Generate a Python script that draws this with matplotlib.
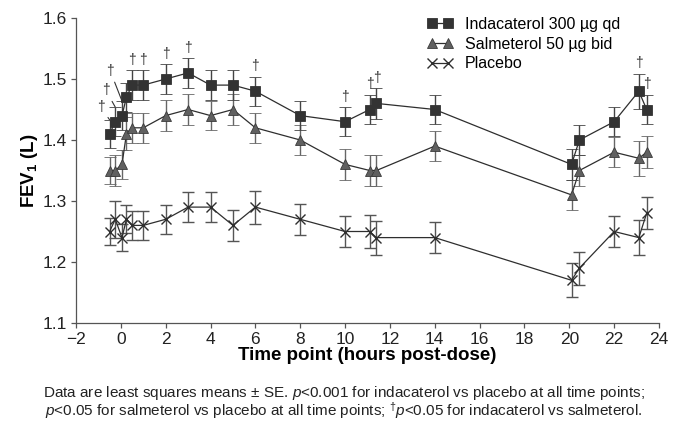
import matplotlib
matplotlib.use("Agg")
import matplotlib.pyplot as plt
from matplotlib.lines import Line2D

plt.rcParams['font.family'] = ['Liberation Sans', 'DejaVu Sans']
plt.rcParams['mathtext.fontset'] = 'custom'
plt.rcParams['mathtext.rm'] = 'Liberation Sans'
plt.rcParams['mathtext.it'] = 'Liberation Sans:italic'
plt.rcParams['mathtext.bf'] = 'Liberation Sans:bold'

# time points (hours post-dose), shared by all three arms
times = [-0.5, -0.25, 0.05, 0.25, 0.5, 1, 2, 3, 4, 5, 6, 8, 10, 11.1, 11.4,
         14, 20.1, 20.45, 22, 23.1, 23.45]

inda = [1.41, 1.43, 1.44, 1.47, 1.49, 1.49, 1.50, 1.51, 1.49, 1.49, 1.48,
        1.44, 1.43, 1.45, 1.46, 1.45, 1.36, 1.40, 1.43, 1.48, 1.45]
inda_se = [0.023, 0.024, 0.024, 0.024, 0.024, 0.024, 0.024, 0.024, 0.024, 0.024, 0.024,
           0.024, 0.024, 0.024, 0.025, 0.024, 0.025, 0.024, 0.024, 0.029, 0.024]

salm = [1.35, 1.35, 1.36, 1.41, 1.42, 1.42, 1.44, 1.45, 1.44, 1.45, 1.42,
        1.40, 1.36, 1.35, 1.35, 1.39, 1.31, 1.35, 1.38, 1.37, 1.38]
salm_se = [0.022, 0.025, 0.024, 0.027, 0.025, 0.025, 0.025, 0.025, 0.024, 0.025, 0.025,
           0.025, 0.025, 0.026, 0.026, 0.025, 0.025, 0.025, 0.025, 0.029, 0.026]

plac = [1.25, 1.27, 1.24, 1.27, 1.26, 1.26, 1.27, 1.29, 1.29, 1.26, 1.29,
        1.27, 1.25, 1.25, 1.24, 1.24, 1.17, 1.19, 1.25, 1.24, 1.28]
plac_se = [0.022, 0.030, 0.022, 0.023, 0.024, 0.024, 0.024, 0.025, 0.024, 0.026, 0.027,
           0.025, 0.026, 0.027, 0.028, 0.026, 0.028, 0.027, 0.026, 0.029, 0.026]

# points with a dagger above them (indacaterol vs salmeterol)
dagger_up = [0.5, 1, 2, 3, 6, 10, 11.1, 11.4, 23.1, 23.45]
# points where the dagger sits off to the left on a leader line
dagger_lead = [-0.5, -0.25, 0.05]
lead_offsets = [(-6.5, 9.5), (-6.7, 12), (-8.4, 21.5)]

fig = plt.figure(figsize=(6.81, 4.28), dpi=100)
ax = fig.add_axes([76 / 681, 105 / 428, 583 / 681, 305 / 428])

dark = "#2e2e2e"
styles = {
    "inda": dict(marker="s", ms=7, mfc="#333333", mec="#333333", mew=0.6),
    "salm": dict(marker="^", ms=7.5, mfc="#606060", mec="#3a3a3a", mew=0.6),
    "plac": dict(marker="x", ms=7.5, mew=1.0, mec=dark),
}

ax.errorbar(times, plac, yerr=plac_se, color=dark, lw=0.9, **styles["plac"],
            ecolor="#555555", elinewidth=1.0, capsize=4, capthick=1.0, zorder=3)
ax.errorbar(times, salm, yerr=salm_se, color=dark, lw=0.9, **styles["salm"],
            ecolor="#666666", elinewidth=1.0, capsize=4, capthick=1.0, zorder=4)
ax.errorbar(times, inda, yerr=inda_se, color=dark, lw=0.9, **styles["inda"],
            ecolor="#444444", elinewidth=1.0, capsize=4, capthick=1.0, zorder=5)

for t in dagger_up:
    i = times.index(t)
    ax.annotate("†", xy=(t, inda[i] + inda_se[i]), xytext=(0, 2.5),
                textcoords="offset points", ha="center", va="bottom",
                fontsize=10, color="#333333")
for t, off in zip(dagger_lead, lead_offsets):
    i = times.index(t)
    ax.annotate("†", xy=(t, inda[i] + inda_se[i]), xytext=off,
                textcoords="offset points", ha="center", va="center",
                fontsize=10, color="#333333",
                arrowprops=dict(arrowstyle="-", color="#333333", lw=0.8,
                                shrinkA=1, shrinkB=0))

ax.set_xlim(-2, 24)
ax.set_ylim(1.1, 1.6)
ax.set_xticks(range(-2, 25, 2))
ax.set_yticks([1.1, 1.2, 1.3, 1.4, 1.5, 1.6])
ax.set_yticklabels(["1.1", "1.2", "1.3", "1.4", "1.5", "1.6"])
ax.spines["top"].set_visible(False)
ax.spines["right"].set_visible(False)
for s in ["left", "bottom"]:
    ax.spines[s].set_color("#555555")
    ax.spines[s].set_linewidth(0.9)
ax.tick_params(axis="both", colors="#555555", labelcolor="#222222",
               labelsize=12.5, length=3.5, width=0.9, pad=3)

ax.set_xlabel("Time point (hours post-dose)", fontsize=13.5, fontweight="bold")
ax.xaxis.set_label_coords(0.5, -0.08)
ax.set_ylabel(r"FEV$_\mathbf{1}$ (L)", fontsize=13.5, fontweight="bold")
ax.yaxis.set_label_coords(-0.062, 0.5)

labels = ["Indacaterol 300 µg qd", "Salmeterol 50 µg bid", "Placebo"]
handles = [Line2D([], [], color=dark, lw=0.9, **styles[k]) for k in ["inda", "salm", "plac"]]
ax.legend(handles, labels, loc="upper left", bbox_to_anchor=(0.602, 1.004),
          frameon=False, numpoints=2, fontsize=11.5, handlelength=1.6,
          handletextpad=0.75, labelspacing=0.3, borderpad=0, borderaxespad=0)

fig.text(0.505, 0.082,
         r"Data are least squares means ± SE. $\it{p}$<0.001 for indacaterol vs placebo at all time points;",
         ha="center", va="center", fontsize=11, color="#222222")
fig.text(0.505, 0.040,
         r"$\it{p}$<0.05 for salmeterol vs placebo at all time points; $^{†}\it{p}$<0.05 for indacaterol vs salmeterol.",
         ha="center", va="center", fontsize=11, color="#222222")

fig.savefig("out.png", dpi=100)
